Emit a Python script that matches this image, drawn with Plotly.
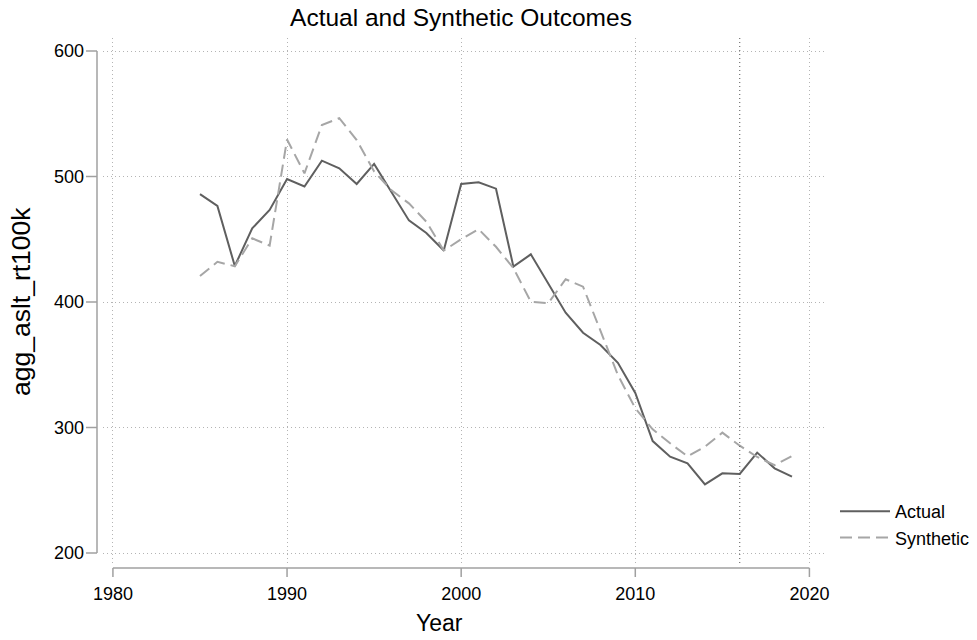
import plotly.graph_objects as go

# Yearly series
years = list(range(1985, 2020))
actual = [486, 476.5, 428.7, 458.7, 473.3, 498, 492, 512.6, 506.5, 494, 510,
          488, 465, 455, 441, 494, 495.4, 490.3, 428.2, 438, 415,
          391.5, 375.5, 365.7, 351.6, 327.5, 289.2, 276.7, 271.5, 254.7, 263.5,
          263, 280, 267.5, 260.8]
synthetic = [420.7, 432, 428.5, 450.7, 445, 529.5, 502.5, 541, 546.5, 529, 504,
             489, 478.6, 464, 441, 450, 458, 444, 427, 400.2, 399,
             418.1, 412.2, 376.3, 341.8, 315.3, 298.5, 287.4, 277, 284.7, 295.9,
             285.5, 276.5, 270, 277.3]
treatment_year = 2016

x_ticks = [1980, 1990, 2000, 2010, 2020]
y_ticks = [200, 300, 400, 500, 600]

FONT = "Liberation Sans, Arial, Helvetica, sans-serif"
AXIS_GRAY = "#a0a0a0"
GRID_GRAY = "#b4b4b4"

fig = go.Figure()
fig.add_trace(go.Scatter(x=years, y=actual, mode="lines", name="Actual",
                         line=dict(color="#5f5f5f", width=2)))
fig.add_trace(go.Scatter(x=years, y=synthetic, mode="lines", name="Synthetic",
                         line=dict(color="#a6a6a6", width=2, dash="12px,6px")))

W, H = 977, 640
ml, mr, mt, mb = 103, 150, 38, 77
pw, ph = W - ml - mr, H - mt - mb

shapes = []
# treatment marker
shapes.append(dict(type="line", xref="x", yref="paper", x0=treatment_year, x1=treatment_year,
                   y0=0, y1=1, line=dict(color="#555555", width=1, dash="1px,3px"), layer="above"))
# offset y axis line and ticks
yl = -6 / pw
shapes.append(dict(type="line", xref="paper", yref="y", x0=yl, x1=yl,
                   y0=min(y_ticks), y1=max(y_ticks), line=dict(color=AXIS_GRAY, width=1.5)))
for v in y_ticks:
    shapes.append(dict(type="line", xref="paper", yref="y", x0=yl - 11 / pw, x1=yl,
                       y0=v, y1=v, line=dict(color=AXIS_GRAY, width=1.5)))
# offset x axis line and ticks
xl = -5 / ph
shapes.append(dict(type="line", xref="x", yref="paper", x0=min(x_ticks), x1=max(x_ticks),
                   y0=xl, y1=xl, line=dict(color=AXIS_GRAY, width=1.5)))
for v in x_ticks:
    shapes.append(dict(type="line", xref="x", yref="paper", x0=v, x1=v,
                       y0=xl, y1=xl - 9 / ph, line=dict(color=AXIS_GRAY, width=1.5)))


def px_to_paper(x, y):
    return (x - ml) / pw, (H - mb - y) / ph


yr_x, yr_y = px_to_paper(439, 623)
yt_x, yt_y = px_to_paper(21, 302)
lg_x, lg_y = px_to_paper(835, 493)

fig.update_layout(
    width=W, height=H,
    margin=dict(l=ml, r=mr, t=mt, b=mb, pad=0, autoexpand=False),
    paper_bgcolor="white", plot_bgcolor="white",
    font=dict(family=FONT, size=18, color="black"),
    title=dict(text="Actual and Synthetic Outcomes", x=461 / W, xanchor="center",
               y=1 - 17 / H, yanchor="middle", yref="container",
               font=dict(size=24.5, color="black")),
    xaxis=dict(range=[1979.43, 2021.01], tickvals=x_ticks, ticks="",
               showline=False, zeroline=False, showgrid=True, gridcolor=GRID_GRAY,
               griddash="1px,3px", gridwidth=1, ticklabelstandoff=18,
               tickfont=dict(size=18)),
    yaxis=dict(range=[192.03, 610.36], tickvals=y_ticks, ticks="",
               showline=False, zeroline=False, showgrid=True, gridcolor=GRID_GRAY,
               griddash="1px,3px", gridwidth=1, ticklabelstandoff=18,
               tickfont=dict(size=18)),
    legend=dict(x=lg_x, xanchor="left", y=lg_y, yanchor="top", itemwidth=50,
                font=dict(size=18), bgcolor="rgba(0,0,0,0)", tracegroupgap=0),
    shapes=shapes,
    annotations=[
        dict(text="Year", x=yr_x, y=yr_y, xref="paper", yref="paper",
             xanchor="center", yanchor="middle", showarrow=False,
             font=dict(size=23)),
        dict(text="agg_aslt_rt100k", x=yt_x, y=yt_y, xref="paper", yref="paper",
             xanchor="center", yanchor="middle", showarrow=False, textangle=-90,
             font=dict(size=26.5)),
    ],
)

fig.write_html("out.html")
